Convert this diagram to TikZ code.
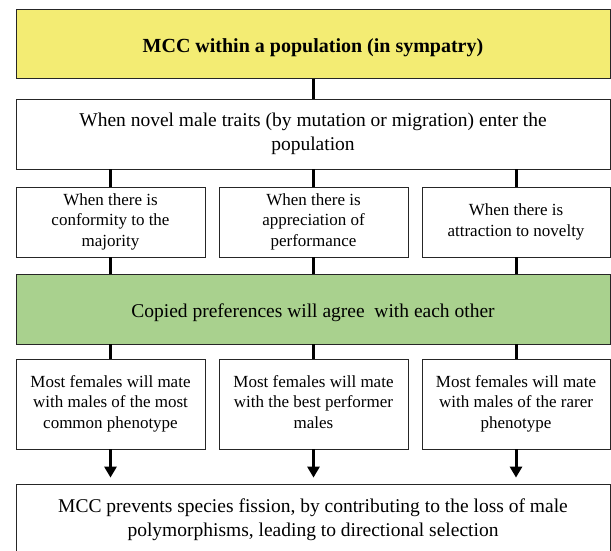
\documentclass[tikz,border=0pt]{standalone}
\usepackage{fontspec}
\setmainfont{Liberation Serif}
\usetikzlibrary{arrows.meta}
\definecolor{titleyellow}{RGB}{243,236,115}
\definecolor{agreegreen}{RGB}{169,209,142}
\newcommand{\topstrut}[1]{\rule{0pt}{#1}}
\newcommand{\footstrut}{\rule[-4pt]{0pt}{4pt}}
\begin{document}
\begin{tikzpicture}[x=1pt, y=-1pt, line width=0.8pt,
  base/.style={draw=black!85, fill=white, align=center, inner sep=0pt, execute at end node=\footstrut},
  box/.style={base, minimum width=594pt, font=\fontsize{19.5}{24}\selectfont,
    execute at begin node=\topstrut{22pt}},
  smallbox/.style={base, minimum width=189pt, font=\fontsize{17}{20.5}\selectfont,
    execute at begin node=\topstrut{26pt}},
  link/.style={line width=3pt},
  push/.style={link, -{Triangle[width=12pt,length=11pt]}, shorten >=6pt}]
  \useasboundingbox (0,0) rectangle (611,550);
  % boxes, top to bottom
  \node[box, fill=titleyellow, minimum height=69pt, font=\fontsize{20}{24}\selectfont\bfseries] (title) at (313,44) {MCC within a population (in sympatry)};
  \node[box, minimum height=70pt] (novel) at (313,134) {When novel male traits (by mutation or migration) enter the\\population};
  \node[smallbox, minimum height=70pt] (conform) at (110.5,222) {When there is\\conformity to the\\majority};
  \node[smallbox, minimum height=70pt] (apprec) at (313.5,222) {When there is\\appreciation of\\performance};
  \node[smallbox, minimum height=70pt, minimum width=188pt] (novelty) at (516,222) {When there is\\attraction to novelty};
  \node[box, fill=agreegreen, minimum height=70pt] (agree) at (313,309) {Copied preferences will agree\ \ with each other};
  \node[smallbox, minimum height=90pt] (common) at (110.5,404) {Most females will mate\\with males of the most\\common phenotype};
  \node[smallbox, minimum height=90pt] (best) at (313.5,404) {Most females will mate\\with the best performer\\males};
  \node[smallbox, minimum height=90pt, minimum width=188pt] (rarer) at (516,404) {Most females will mate\\with males of the rarer\\phenotype};
  \node[box, minimum height=72pt] (outcome) at (313,520) {MCC prevents species fission, by contributing to the loss of male\\polymorphisms, leading to directional selection};
  % connectors
  \draw[link] (title) -- (novel);
  \foreach \n in {conform, apprec, novelty} {
    \draw[link] (\n.north |- novel.south) -- (\n.north);
    \draw[link] (\n.south) -- (\n.south |- agree.north);
  }
  \foreach \n in {common, best, rarer} {
    \draw[link] (\n.north |- agree.south) -- (\n.north);
    \draw[push] (\n.south) -- (\n.south |- outcome.north);
  }
\end{tikzpicture}
\end{document}
